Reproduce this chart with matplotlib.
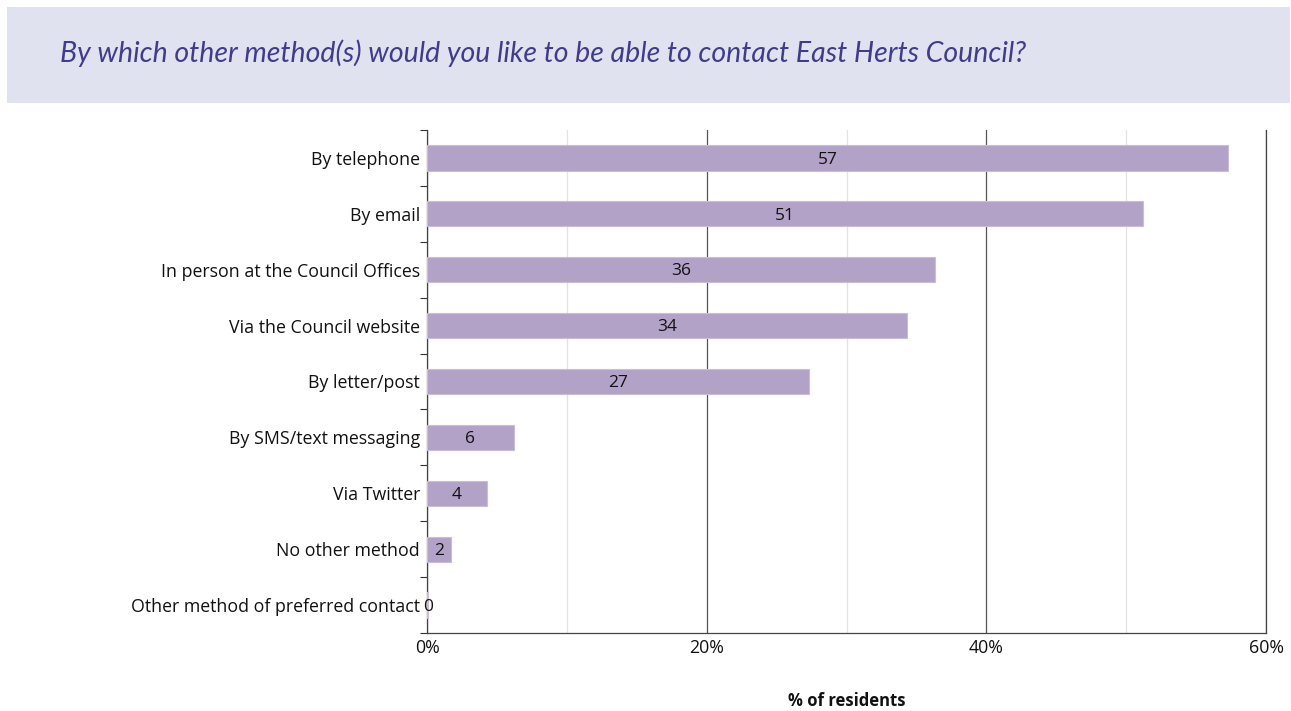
import matplotlib
matplotlib.use("Agg")
import matplotlib.pyplot as plt
from matplotlib.patches import Rectangle
from matplotlib.ticker import MultipleLocator, FuncFormatter

# Survey responses (% of residents)
methods = [
    "By telephone",
    "By email",
    "In person at the Council Offices",
    "Via the Council website",
    "By letter/post",
    "By SMS/text messaging",
    "Via Twitter",
    "No other method",
    "Other method of preferred contact",
]
shares = [57.3, 51.2, 36.3, 34.3, 27.3, 6.2, 4.3, 1.7, 0.1]
x_ticks = [0, 20, 40, 60]

title = "By which other method(s) would you like to be able to contact East Herts Council?"

plt.rcParams["font.family"] = ["Open Sans", "DejaVu Sans"]

fig = plt.figure(figsize=(12.91, 7.11), dpi=100)
W, H = 1291, 711

# Title band
fig.patches.append(Rectangle((7 / W, 1 - 103 / H), (1290 - 7) / W, (103 - 7) / H,
                             transform=fig.transFigure, facecolor="#E1E2F0",
                             edgecolor="none", zorder=0))
fig.text(60 / W, 1 - 53 / H, title, fontsize=20.5, style="italic",
         color="#3F3C8C", family=["Lato", "DejaVu Sans"], va="center", ha="left")

ax = fig.add_axes([427 / W, 1 - 633 / H, (1266 - 427) / W, (633 - 130) / H])

n = len(methods)
ypos = list(range(n))
ax.barh(ypos, shares, height=0.45, color="#B3A2C8",
        edgecolor="#C9BDDA", linewidth=0.8, zorder=3)
for y, v in zip(ypos, shares):
    ax.text(v / 2, y + 0.03, f"{v:.0f}", ha="center", va="center",
            fontsize=12.5, color="#111111", zorder=4)

ax.set_ylim(n - 0.5, -0.5)
ax.set_xlim(0, 60)

ax.set_yticks(ypos)
ax.set_yticklabels(methods, fontsize=12.8, color="#111111")
ax.tick_params(axis="y", which="major", length=0, pad=5)
ax.set_yticks([i - 0.5 for i in range(n + 1)], minor=True)
ax.tick_params(axis="y", which="minor", length=5, direction="out",
               color="#333333", width=0.8)

ax.set_xticks(x_ticks)
ax.xaxis.set_major_formatter(FuncFormatter(lambda v, p: f"{v:.0f}%"))
ax.xaxis.set_minor_locator(MultipleLocator(10))
ax.tick_params(axis="x", which="major", length=0, labelsize=12.8,
               colors="#111111", pad=4)
ax.tick_params(axis="x", which="minor", length=0)

ax.grid(axis="x", which="major", color="#555555", linewidth=0.9, zorder=1)
ax.grid(axis="x", which="minor", color="#E3E3E3", linewidth=0.9, zorder=1)
ax.grid(axis="y", visible=False)

ax.spines["top"].set_visible(False)
for side in ["left", "bottom", "right"]:
    ax.spines[side].set_color("#444444")
    ax.spines[side].set_linewidth(0.9)

fig.text((427 + 1266) / 2 / W, 1 - 701 / H, "% of residents", ha="center",
         va="center", fontsize=12, fontweight="bold", color="#111111")

fig.savefig("out.png", dpi=100, facecolor="white")
